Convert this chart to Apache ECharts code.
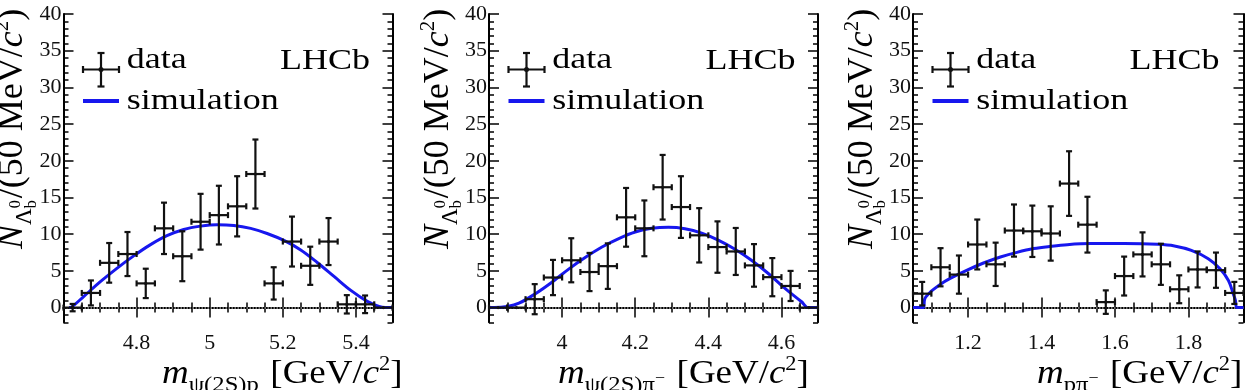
<!DOCTYPE html>
<html><head><meta charset="utf-8">
<script src="https://cdn.jsdelivr.net/npm/echarts@6.0.0/dist/echarts.min.js"></script>
<style>html,body{margin:0;padding:0;background:#fff}#c{width:1249px;height:390px}</style>
</head><body><div id="c"></div>
<script>
// ---------------- DATA ----------------
const yTicks = [0, 5, 10, 15, 20, 25, 30, 35, 40];
const binHalfWidth = 0.025;

// Panel 1: m(psi(2S) p)
const xTicksPsiP = [4.8, 5.0, 5.2, 5.4];
const massPsiP  = [4.625, 4.675, 4.725, 4.775, 4.825, 4.875, 4.925, 4.975, 5.025, 5.075, 5.125, 5.175, 5.225, 5.275, 5.325, 5.375, 5.425, 5.475];
const yieldPsiP = [0.0, 2.0, 6.1, 7.3, 3.3, 10.8, 7.0, 11.7, 12.6, 13.8, 18.2, 3.3, 9.0, 5.7, 9.0, 0.45, 0.45, 0.0];
const errPsiP   = [0.5, 1.7, 2.7, 3.0, 2.0, 3.5, 3.4, 3.8, 4.0, 4.1, 4.7, 2.2, 3.4, 2.6, 3.2, 1.25, 1.2, 0.0];
const simMassPsiP = [4.615, 4.623, 4.655, 4.70, 4.746, 4.792, 4.837, 4.883, 4.929, 4.975, 5.020, 5.066, 5.112, 5.157, 5.203, 5.249, 5.294, 5.340, 5.386, 5.431, 5.463, 5.48, 5.50];
const simPsiP     = [0, 0.1, 1.5, 3.5, 5.35, 7.05, 8.55, 9.8, 10.65, 11.1, 11.3, 11.2, 10.8, 10.1, 9.15, 7.85, 6.15, 4.25, 2.35, 0.85, 0.15, 0, 0];

// Panel 2: m(psi(2S) pi-)
const xTicksPsiPi = [4.0, 4.2, 4.4, 4.6];
const massPsiPi  = [3.825, 3.875, 3.925, 3.975, 4.025, 4.075, 4.125, 4.175, 4.225, 4.275, 4.325, 4.375, 4.425, 4.475, 4.525, 4.575, 4.625, 4.675];
const yieldPsiPi = [0, 0, 1.15, 4.1, 6.45, 4.85, 5.65, 12.3, 10.8, 16.4, 13.7, 9.85, 8.25, 7.65, 5.75, 4.15, 2.95, 0];
const errPsiPi   = [0, 0, 2.05, 2.4, 3.0, 2.6, 3.1, 4.0, 3.8, 4.4, 4.2, 3.7, 3.5, 3.2, 2.9, 2.6, 2.05, 0];
const simMassPsiPi = [3.80, 3.815, 3.85, 3.882, 3.927, 3.973, 4.018, 4.064, 4.109, 4.155, 4.20, 4.245, 4.291, 4.336, 4.382, 4.427, 4.473, 4.518, 4.564, 4.609, 4.655, 4.673, 4.70];
const simPsiPi     = [0, 0, 0.15, 0.6, 1.9, 3.5, 5.25, 6.85, 8.25, 9.4, 10.3, 10.8, 10.95, 10.75, 10.15, 9.2, 7.95, 6.45, 4.65, 2.65, 0.8, 0, 0];

// Panel 3: m(p pi-)
const xTicksPPi = [1.2, 1.4, 1.6, 1.8];
const massPPi  = [1.075, 1.125, 1.175, 1.225, 1.275, 1.325, 1.375, 1.425, 1.475, 1.525, 1.575, 1.625, 1.675, 1.725, 1.775, 1.825, 1.875, 1.925];
const yieldPPi = [1.9, 5.5, 4.5, 8.6, 5.9, 10.5, 10.4, 10.1, 16.9, 11.3, 0.75, 4.3, 7.25, 5.9, 2.5, 5.2, 5.1, 2.0];
const errPPi   = [1.6, 2.6, 2.6, 3.4, 2.95, 3.55, 3.5, 3.7, 4.4, 3.8, 1.6, 2.65, 3.0, 2.8, 1.9, 2.45, 2.4, 1.5];
const simMassPPi = [1.05, 1.078, 1.082, 1.095, 1.105, 1.125, 1.15, 1.196, 1.242, 1.288, 1.333, 1.379, 1.425, 1.47, 1.534, 1.625, 1.717, 1.762, 1.808, 1.854, 1.886, 1.909, 1.922, 1.928, 1.932, 1.95];
const simPPi     = [0, 0, 1.2, 2.0, 2.45, 3.2, 3.95, 5.08, 6.08, 6.9, 7.53, 8.04, 8.35, 8.58, 8.72, 8.72, 8.62, 8.4, 7.8, 6.67, 5.3, 3.7, 1.9, 1.0, 0, 0];

// ---------------- LAYOUT ----------------
const FAM = '"Liberation Serif", "Times New Roman", Times, serif';
const BLUE = '#1717ee';
const panels = [
  {left: 63.5, width: 329, xmin: 4.6, xmax: 5.5, ticks: xTicksPsiP, mass: massPsiP, val: yieldPsiP, err: errPsiP, sx: simMassPsiP, sy: simPsiP,
   sub: [{t:'ψ(2S)p', s:22, dy:8}], titleX: 162},
  {left: 489, width: 329, xmin: 3.8, xmax: 4.7, ticks: xTicksPsiPi, mass: massPsiPi, val: yieldPsiPi, err: errPsiPi, sx: simMassPsiPi, sy: simPsiPi,
   sub: [{t:'ψ(2S)π', s:22, dy:8}, {t:'−', s:16, dy:-1}], titleX: 558},
  {left: 913, width: 330.5, xmin: 1.05, xmax: 1.95, ticks: xTicksPPi, mass: massPPi, val: yieldPPi, err: errPPi, sx: simMassPPi, sy: simPPi,
   sub: [{t:'pπ', s:22, dy:8}, {t:'−', s:16, dy:-1}], titleX: 1037}
];
const gridTop = 14, gridHeight = 308.3;

const mctx = document.createElement('canvas').getContext('2d');
function tw(text, font) { mctx.font = font; return mctx.measureText(text).width; }
function textRun(parts, o) {
  const children = []; let cx = 0;
  parts.forEach(p => {
    const font = (p.i ? 'italic ' : '') + p.s + 'px ' + FAM;
    const x = cx + (p.dx || 0);
    children.push({type: 'text', x: x, y: (p.dy || 0) - 0.3375 * p.s,
      style: {text: p.t, font: font, fill: '#000', align: 'left', verticalAlign: 'middle', textAlign: 'left', textVerticalAlign: 'middle'}});
    if (p.adv !== false) cx = x + tw(p.t, font);
  });
  return {type: 'group', x: o.x, y: o.y, rotation: o.rot || 0, scaleX: o.sx || 1, silent: true, children: children};
}

const tickLabel = {fontFamily: FAM, fontSize: 22, color: '#111'};
const frameLine = {show: true, lineStyle: {color: '#000', width: 2}};
const grids = [], xAxes = [], yAxes = [], series = [], graphics = [];

function errItem(params, api) {
  const x = api.value(0), y = api.value(1), e = api.value(2), hw = api.value(3);
  const c = api.coord([x, y]);
  const pL = api.coord([x - hw, y]), pR = api.coord([x + hw, y]);
  const st = {stroke: '#111', lineWidth: 2.2};
  const ch = [
    {type: 'line', shape: {x1: pL[0], y1: c[1], x2: pR[0], y2: c[1]}, style: st},
    {type: 'line', shape: {x1: pL[0], y1: c[1] - 3, x2: pL[0], y2: c[1] + 3}, style: st},
    {type: 'line', shape: {x1: pR[0], y1: c[1] - 3, x2: pR[0], y2: c[1] + 3}, style: st}
  ];
  if (e > 0) {
    const pT = api.coord([x, y + e]), pB = api.coord([x, y - e]);
    ch.push({type: 'line', shape: {x1: c[0], y1: pT[1], x2: c[0], y2: pB[1]}, style: st});
    ch.push({type: 'line', shape: {x1: c[0] - 3, y1: pT[1], x2: c[0] + 3, y2: pT[1]}, style: st});
    ch.push({type: 'line', shape: {x1: c[0] - 3, y1: pB[1], x2: c[0] + 3, y2: pB[1]}, style: st});
  }
  ch.push({type: 'circle', shape: {cx: c[0], cy: c[1], r: 1.6}, style: {fill: '#111'}});
  return {type: 'group', children: ch};
}

panels.forEach((p, i) => {
  grids.push({left: p.left, top: gridTop, width: p.width, height: gridHeight});
  const xb = {gridIndex: i, type: 'value', min: p.xmin, max: p.xmax, splitLine: {show: false}};
  xAxes.push(Object.assign({}, xb, {position: 'bottom', interval: 0.05, axisLine: frameLine,
    axisTick: {show: true, inside: true, length: 5, lineStyle: {color: '#000', width: 1.5}}, axisLabel: {show: false}}));
  xAxes.push(Object.assign({}, xb, {position: 'bottom', axisLine: {show: false},
    axisTick: {show: true, inside: true, length: 10, customValues: p.ticks, lineStyle: {color: '#000', width: 1.5}},
    axisLabel: Object.assign({show: true, customValues: p.ticks, margin: 10}, tickLabel)}));
  xAxes.push(Object.assign({}, xb, {position: 'top', interval: 0.05, axisLine: frameLine,
    axisTick: {show: true, inside: true, length: 5, lineStyle: {color: '#000', width: 1.5}}, axisLabel: {show: false}}));
  xAxes.push(Object.assign({}, xb, {position: 'top', axisLine: {show: false},
    axisTick: {show: true, inside: true, length: 10, customValues: p.ticks, lineStyle: {color: '#000', width: 1.5}}, axisLabel: {show: false}}));

  const yb = {gridIndex: i, type: 'value', min: -2, max: 40, splitLine: {show: false}};
  yAxes.push(Object.assign({}, yb, {position: 'left', interval: 1, axisLine: frameLine,
    axisTick: {show: true, inside: true, length: 5, lineStyle: {color: '#000', width: 1.5}}, axisLabel: {show: false}}));
  yAxes.push(Object.assign({}, yb, {position: 'left', axisLine: {show: false},
    axisTick: {show: true, inside: true, length: 10, customValues: yTicks, lineStyle: {color: '#000', width: 1.5}},
    axisLabel: Object.assign({show: true, customValues: yTicks, margin: 2}, tickLabel)}));
  yAxes.push(Object.assign({}, yb, {position: 'right', interval: 1, axisLine: frameLine,
    axisTick: {show: true, inside: true, length: 5, lineStyle: {color: '#000', width: 1.5}}, axisLabel: {show: false}}));
  yAxes.push(Object.assign({}, yb, {position: 'right', axisLine: {show: false},
    axisTick: {show: true, inside: true, length: 10, customValues: yTicks, lineStyle: {color: '#000', width: 1.5}}, axisLabel: {show: false}}));

  series.push({type: 'line', name: 'simulation', xAxisIndex: i * 4, yAxisIndex: i * 4,
    data: p.sx.map((x, k) => [x, p.sy[k]]), smooth: 0.35, symbol: 'none', showSymbol: false,
    lineStyle: {color: BLUE, width: 3}, z: 3, silent: true,
    markLine: {silent: true, symbol: ['none', 'none'], label: {show: false}, z: 1,
      lineStyle: {type: 'dotted', color: '#999', width: 1.5}, data: [{yAxis: 0}]}});
  series.push({type: 'custom', name: 'data', xAxisIndex: i * 4, yAxisIndex: i * 4, renderItem: errItem, z: 4, silent: true,
    encode: {x: 0, y: 1},
    data: p.mass.map((m, k) => [m, p.val[k], p.err[k], binHalfWidth])});

  // legend, LHCb label, axis titles
  const ox = p.left - 63.5;
  const st = {stroke: '#111', lineWidth: 2.2};
  graphics.push({type: 'line', silent: true, shape: {x1: 83 + ox, y1: 69.5, x2: 119 + ox, y2: 69.5}, style: st});
  graphics.push({type: 'line', silent: true, shape: {x1: 101 + ox, y1: 53, x2: 101 + ox, y2: 86.5}, style: st});
  graphics.push({type: 'line', silent: true, shape: {x1: 97.5 + ox, y1: 53, x2: 104.5 + ox, y2: 53}, style: st});
  graphics.push({type: 'line', silent: true, shape: {x1: 97.5 + ox, y1: 86.5, x2: 104.5 + ox, y2: 86.5}, style: st});
  graphics.push({type: 'line', silent: true, shape: {x1: 83 + ox, y1: 66, x2: 83 + ox, y2: 73}, style: st});
  graphics.push({type: 'line', silent: true, shape: {x1: 119 + ox, y1: 66, x2: 119 + ox, y2: 73}, style: st});
  graphics.push({type: 'circle', silent: true, shape: {cx: 101 + ox, cy: 69.5, r: 2.5}, style: {fill: '#111'}});
  graphics.push({type: 'line', silent: true, shape: {x1: 83 + ox, y1: 101, x2: 119 + ox, y2: 101}, style: {stroke: BLUE, lineWidth: 4}});
  graphics.push(textRun([{t: 'data', s: 30}], {x: 126.7 + ox, y: 70.7, sx: 1.2}));
  graphics.push(textRun([{t: 'simulation', s: 30}], {x: 126.7 + ox, y: 111.7, sx: 1.2}));
  graphics.push(textRun([{t: 'LHCb', s: 30}], {x: 280 + ox, y: 71.7, sx: 1.2}));

  // y title (rotated)
  graphics.push(textRun([
    {t: 'N', s: 36, i: true},
    {t: 'Λ', s: 23, dy: 8},
    {t: '0', s: 16, dy: -4, adv: false},
    {t: 'b', s: 16, dy: 12},
    {t: '/(50 MeV/', s: 36, dx: 2},
    {t: 'c', s: 36, i: true},
    {t: '2', s: 21, dy: -15},
    {t: ')', s: 36}
  ], {x: 25 + ox, y: 249, rot: Math.PI / 2}));

  // x title
  graphics.push(textRun([{t: 'm', s: 33, i: true}].concat(p.sub).concat([
    {t: ' [GeV/', s: 33, dx: 2},
    {t: 'c', s: 33, i: true},
    {t: '2', s: 20, dy: -14},
    {t: ']', s: 33}
  ]), {x: p.titleX, y: 385, sx: 1.12}));
});

const chart = echarts.init(document.getElementById('c'), null, {renderer: 'canvas'});
chart.setOption({
  animation: false,
  backgroundColor: '#fff',
  grid: grids, xAxis: xAxes, yAxis: yAxes, series: series,
  graphic: {elements: graphics}
});
</script></body></html>
